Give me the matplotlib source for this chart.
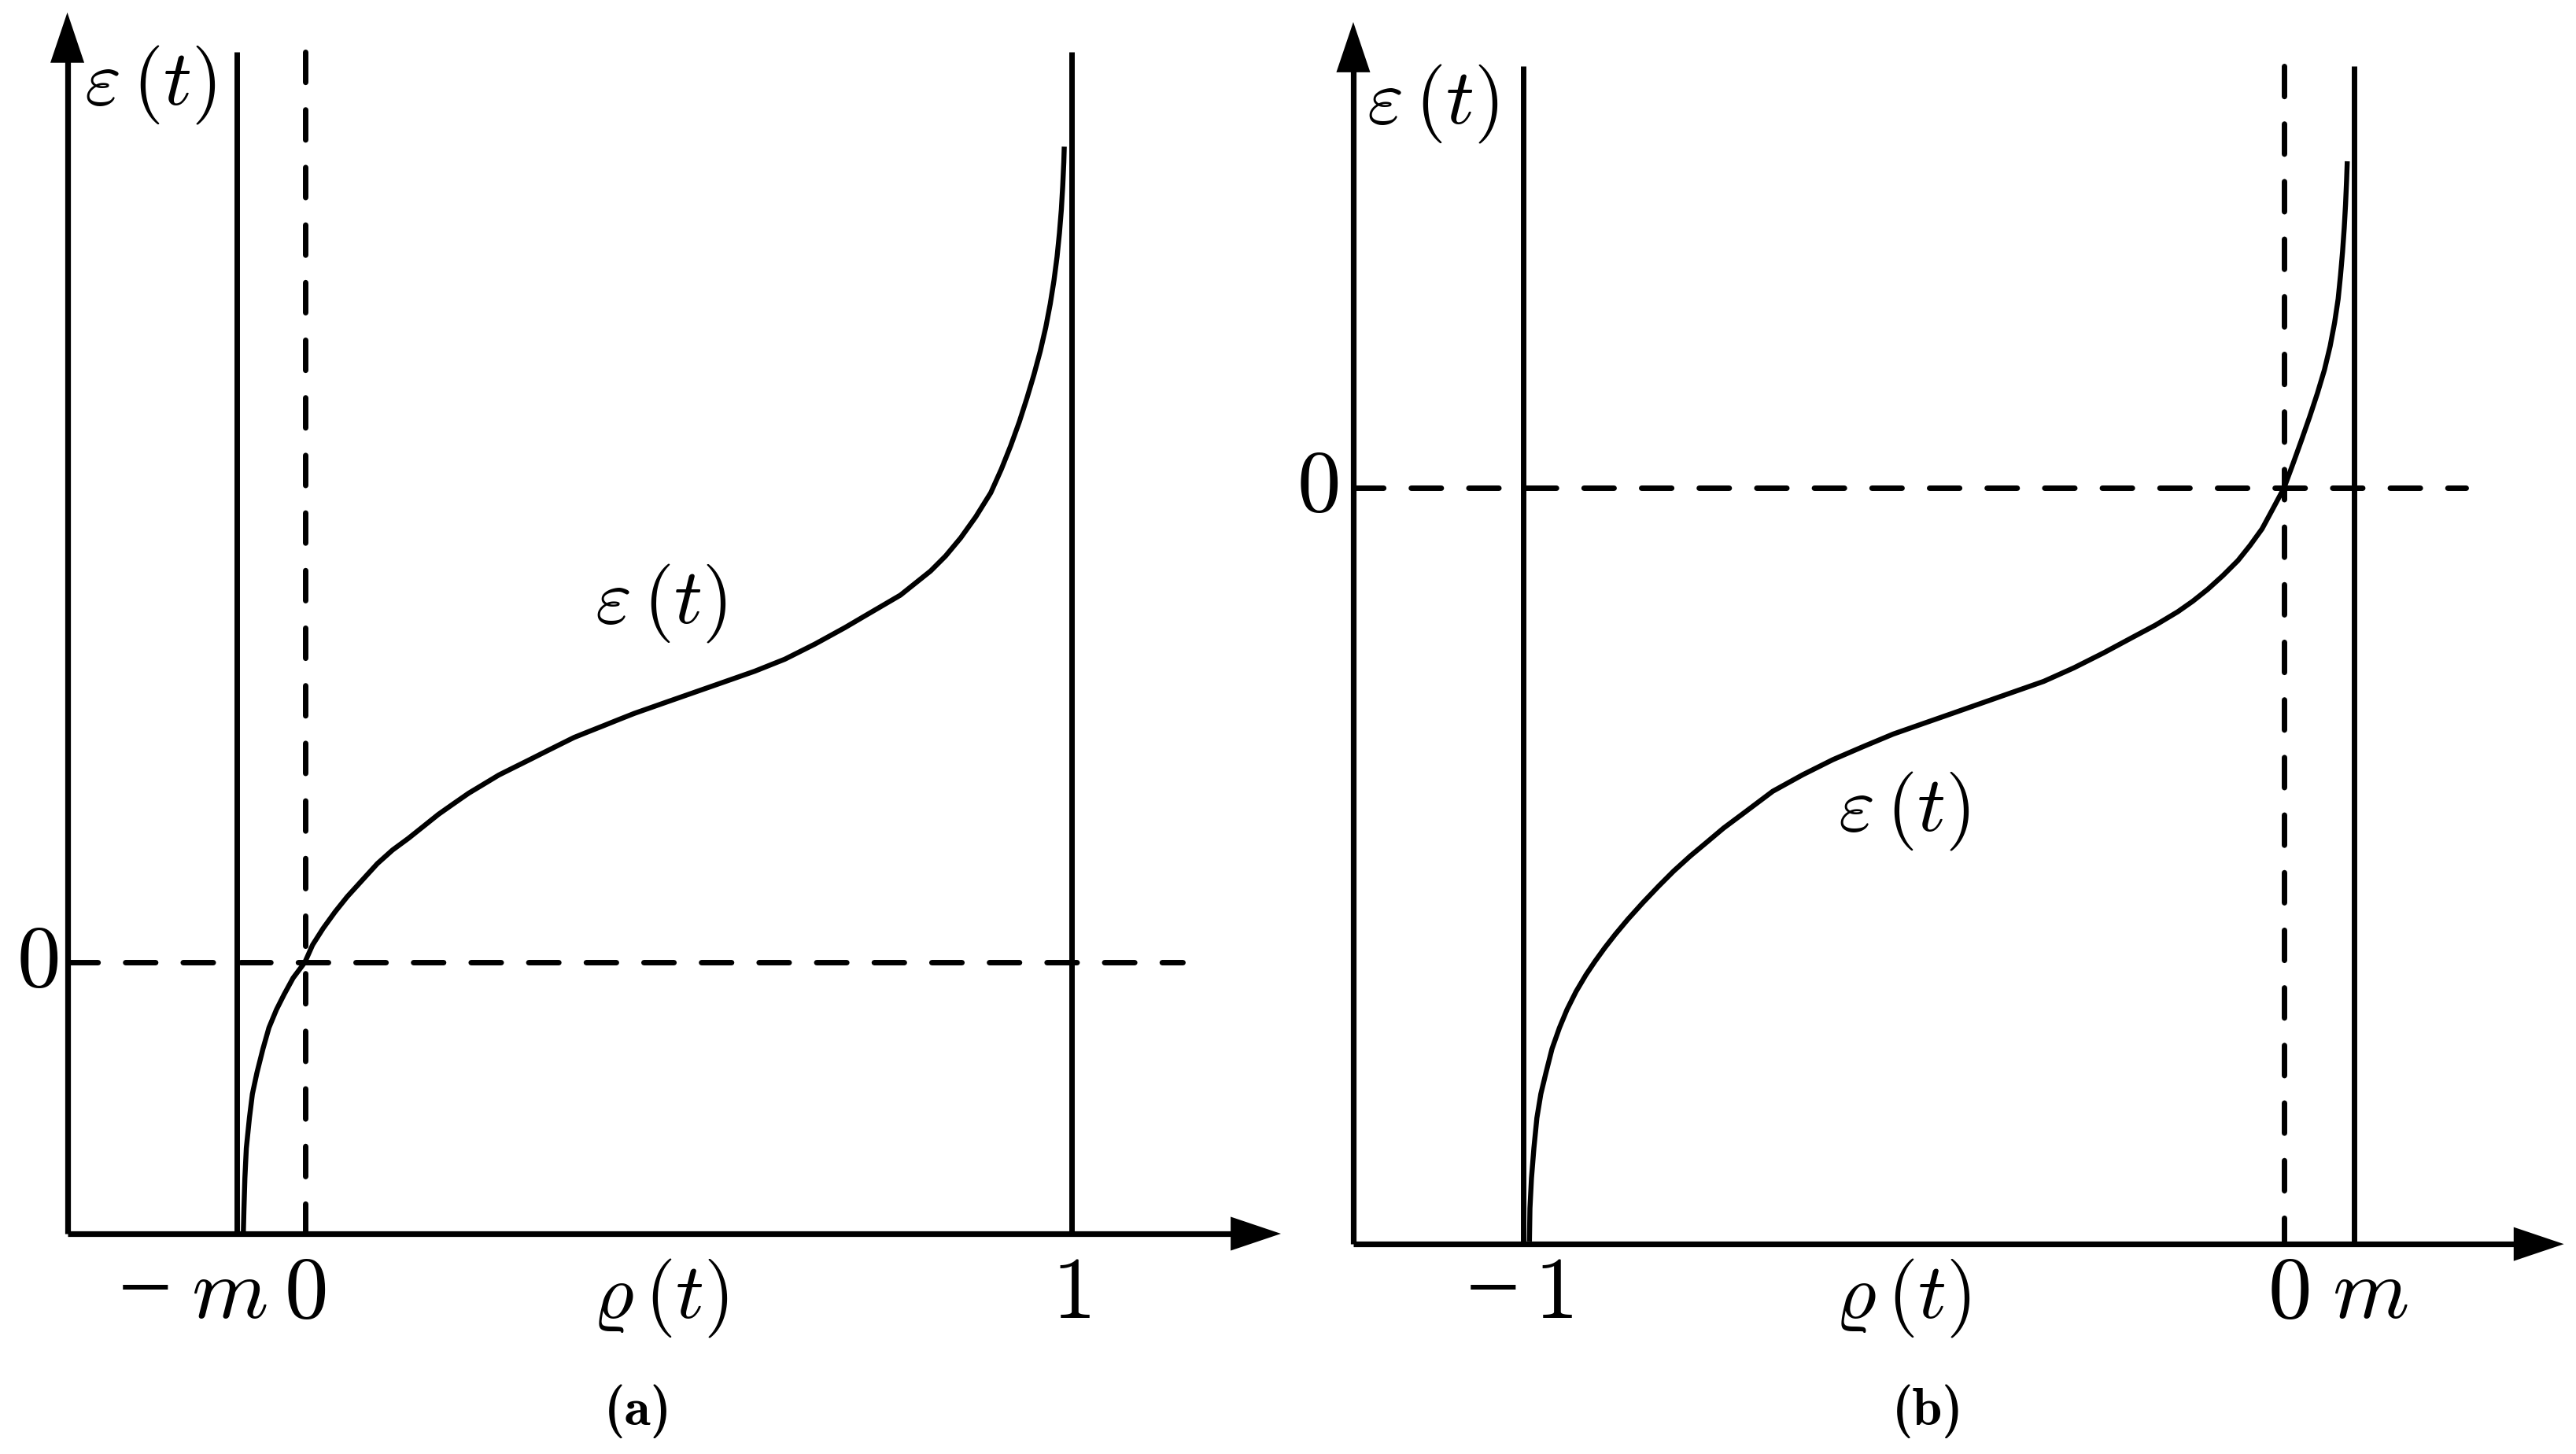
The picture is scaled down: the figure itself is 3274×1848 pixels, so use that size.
import matplotlib
matplotlib.use("Agg")
import matplotlib.pyplot as plt

plt.rcParams["mathtext.fontset"] = "cm"
plt.rcParams["font.family"] = ["DejaVu Serif"]

# ---------------- data: panel (a) ----------------
rho_a = [-0.0803, -0.0795, -0.0783, -0.0764, -0.0724, -0.0685, -0.0626, -0.0547,
         -0.0469, -0.0371, -0.0272, -0.0154, 0.0, 0.0101, 0.0238, 0.0395, 0.0552,
         0.0749, 0.0946, 0.1143, 0.1351, 0.1548, 0.1744, 0.1940, 0.2138, 0.2334,
         0.2530, 0.2727, 0.2923, 0.3119, 0.3316, 0.3512, 0.3709, 0.3906, 0.4102,
         0.4299, 0.4691, 0.5084, 0.5477, 0.5870, 0.6263, 0.6656, 0.7048, 0.7316,
         0.7771, 0.8164, 0.8360, 0.8557, 0.8754, 0.8950, 0.9088, 0.9211, 0.9322,
         0.9421, 0.9513, 0.9596, 0.9667, 0.9726, 0.9775, 0.9815, 0.9846, 0.9871,
         0.9889, 0.9903, 0.9909]
eps_a = [-0.9954, -0.9067, -0.7957, -0.6846, -0.5739, -0.4852, -0.4075, -0.3188,
         -0.2412, -0.1745, -0.1191, -0.0580, 0.0, 0.0641, 0.1249, 0.1861, 0.2414,
         0.3026, 0.3635, 0.4133, 0.4565, 0.5009, 0.5452, 0.5841, 0.6229, 0.6562,
         0.6896, 0.7174, 0.7449, 0.7728, 0.8006, 0.8281, 0.8504, 0.8725, 0.8948,
         0.9168, 0.9557, 0.9945, 1.0333, 1.0722, 1.1165, 1.1722, 1.2330, 1.2774,
         1.3525, 1.4412, 1.4965, 1.5632, 1.6409, 1.7296, 1.8165, 1.9035, 1.9904,
         2.0774, 2.1643, 2.2513, 2.3383, 2.4252, 2.5122, 2.5991, 2.6861, 2.7730,
         2.8600, 2.9470, 3.0046]
solid_v_a = [-0.0888, 1.0]          # rho = -m and rho = 1
dashed_v_a = [0.0]                  # rho = 0
tick_pos_a = [-0.208, -0.099, 0.0, 1.0]
tick_lab_a = ["\u2013", r"$m$", r"$0$", r"$1$"]

# ---------------- data: panel (b) ----------------
rho_b = [-0.9919, -0.9912, -0.9892, -0.9860, -0.9821, -0.9769, -0.9702, -0.9622,
         -0.9524, -0.9425, -0.9306, -0.9176, -0.9058, -0.8929, -0.8790, -0.8625,
         -0.8428, -0.8221, -0.8024, -0.7805, -0.7592, -0.7367, -0.7117, -0.6721,
         -0.6325, -0.5930, -0.5534, -0.5138, -0.4743, -0.4346, -0.3950, -0.3555,
         -0.3159, -0.2763, -0.2368, -0.1991, -0.1694, -0.1397, -0.1200, -0.1001,
         -0.0804, -0.0606, -0.0448, -0.0290, -0.0151, 0.0, 0.01148, 0.02265,
         0.03351, 0.04374, 0.05305, 0.06050, 0.06639, 0.07104, 0.07415, 0.07684,
         0.07901, 0.08077, 0.08211, 0.08304]
eps_b = [-2.7765, -2.6545, -2.5435, -2.4325, -2.3217, -2.2330, -2.1554, -2.0667,
         -1.9890, -1.9223, -1.8557, -1.7942, -1.7449, -1.6948, -1.6449, -1.5896,
         -1.5284, -1.4675, -1.4122, -1.3565, -1.3067, -1.2536, -1.2014, -1.1180,
         -1.0568, -1.0014, -0.9536, -0.9072, -0.8684, -0.8296, -0.7907, -0.7519,
         -0.7130, -0.6632, -0.6075, -0.5507, -0.5064, -0.4565, -0.4177, -0.3733,
         -0.3232, -0.2678, -0.2125, -0.1513, -0.0791, 0.0, 0.0870, 0.1739,
         0.2609, 0.3478, 0.4348, 0.5217, 0.6087, 0.6957, 0.7826, 0.8696,
         0.9565, 1.0435, 1.1304, 1.2029]
solid_v_b = [-1.0, 0.0925]          # rho = -1 and rho = m
dashed_v_b = [0.0]                  # rho = 0
tick_pos_b = [-1.0398, -0.9600, 0.0058, 0.1127]
tick_lab_b = ["\u2013", r"$1$", r"$0$", r"$m$"]

# ---------------- layout ----------------
W, H = 3274, 1848
fig = plt.figure(figsize=(W / 100, H / 100), dpi=100)
fig.patch.set_facecolor("white")

LW_AX = 5.2
LW_V = 5.0
LW_C = 4.6
LW_D = 5.0
DASH = (0, (5.5, 5.04))
HEAD_PX = 64.0
F_LAB = 72
F_TICK = 80
F_CAP = 49
MINUS_LIFT_PX = 13.0


def make_axes(px_left, px_right, x0_px, xunit, y0_px, yunit):
    ax = fig.add_axes([px_left / W, 0, (px_right - px_left) / W, 1])
    ax.set_xlim((px_left - x0_px) / xunit, (px_right - x0_px) / xunit)
    ax.set_ylim((y0_px - H) / yunit, y0_px / yunit)
    ax.axis("off")
    return ax


def draw_panel(ax, xunit, yunit, origin, x_tip, y_tip, v_top, hd_end,
               rho, eps, solid_v, dashed_v, tick_pos, tick_lab, tick_base,
               ylab0_x, top_lab, curve_lab, cap_xy, cap_text):
    ox, oy = origin
    hx = HEAD_PX / xunit
    hy = HEAD_PX / yunit
    # axes lines
    ax.plot([ox, x_tip - 0.5 * hx], [oy, oy], color="k", lw=LW_AX,
            solid_capstyle="butt", clip_on=False)
    ax.plot([ox, ox], [oy, y_tip - 0.5 * hy], color="k", lw=LW_AX,
            solid_capstyle="butt", clip_on=False)
    head = dict(arrowstyle="-|>,head_length=46,head_width=15.5",
                mutation_scale=1, lw=0, color="k", shrinkA=0, shrinkB=0)
    ax.annotate("", xy=(x_tip, oy), xytext=(ox, oy), arrowprops=head)
    ax.annotate("", xy=(ox, y_tip), xytext=(ox, oy), arrowprops=head)
    # vertical reference lines
    for xv in solid_v:
        ax.plot([xv, xv], [oy, v_top], color="k", lw=LW_V, solid_capstyle="butt")
    for xv in dashed_v:
        ax.plot([xv, xv], [v_top, oy], color="k", lw=LW_D, linestyle=DASH,
                dash_capstyle="round")
    # horizontal dashed at eps = 0
    ax.plot([ox, hd_end], [0.0, 0.0], color="k", lw=LW_D, linestyle=DASH,
            dash_capstyle="round")
    # curve
    ax.plot(rho, eps, color="k", lw=LW_C, solid_capstyle="butt",
            solid_joinstyle="round")
    # texts
    for p, s in zip(tick_pos, tick_lab):
        if s == "\u2013":
            ax.text(p, tick_base + MINUS_LIFT_PX / yunit, s, fontsize=F_TICK,
                    ha="center", va="baseline", fontfamily="Liberation Serif")
        else:
            ax.text(p, tick_base, s, fontsize=F_TICK, ha="center", va="baseline")
    ax.text(ylab0_x, 0.0, r"$0$", fontsize=F_TICK, ha="center", va="center")
    ax.text(top_lab[0], top_lab[1], r"$\varepsilon\,(t)$", fontsize=F_LAB,
            ha="center", va="center")
    ax.text(curve_lab[0], curve_lab[1], r"$\varepsilon\,(t)$", fontsize=F_LAB,
            ha="center", va="center")
    ax.text(curve_lab[2], tick_base, r"$\varrho\,(t)$", fontsize=F_LAB,
            ha="center", va="baseline")
    ax.text(cap_xy[0], cap_xy[1], cap_text, fontsize=F_CAP, ha="center",
            va="baseline", fontfamily="cmb10")


ax_a = make_axes(0, 1640, 387.5, 974.0, 1223.0, 345.0)
draw_panel(ax_a, 974.0, 345.0, origin=(-0.310, -1.0), x_tip=1.2736, y_tip=3.499,
           v_top=3.354, hd_end=1.145, rho=rho_a, eps=eps_a,
           solid_v=solid_v_a, dashed_v=dashed_v_a, tick_pos=tick_pos_a,
           tick_lab=tick_lab_a, tick_base=-1.310, ylab0_x=-0.3486,
           top_lab=(-0.2017, 3.232), curve_lab=(0.4646, 1.322, 0.4640),
           cap_xy=(0.4344, -1.704), cap_text="(a)")

ax_b = make_axes(1640, 3274, 2903.0, 967.0, 620.0, 345.0)
draw_panel(ax_b, 967.0, 345.0, origin=(-1.2234, -2.786), x_tip=0.3678, y_tip=1.716,
           v_top=1.555, hd_end=0.2389, rho=rho_b, eps=eps_b,
           solid_v=solid_v_b, dashed_v=dashed_v_b, tick_pos=tick_pos_b,
           tick_lab=tick_lab_b, tick_base=-3.058, ylab0_x=-1.2699,
           top_lab=(-1.119, 1.4145), curve_lab=(-0.4995, -1.190, -0.5015),
           cap_xy=(-0.4684, -3.452), cap_text="(b)")

fig.savefig("out.png", dpi=100, facecolor="white")
